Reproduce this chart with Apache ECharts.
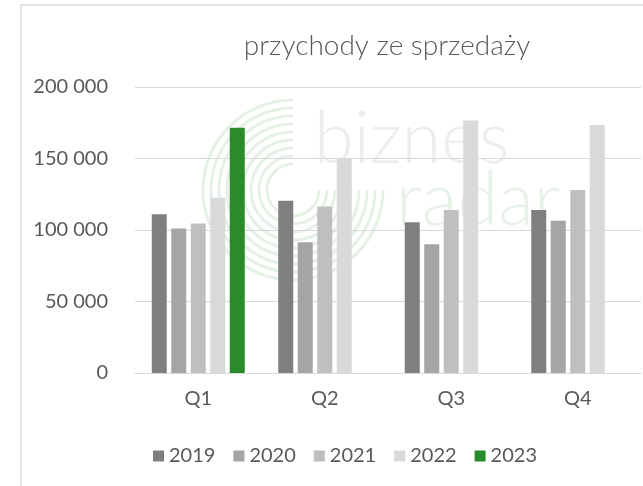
<!DOCTYPE html>
<html>
<head>
<meta charset="utf-8">
<script src="https://cdn.jsdelivr.net/npm/echarts@6/dist/echarts.min.js"></script>
<style>
html, body { margin: 0; padding: 0; background: #fff; }
#chart { width: 643px; height: 486px; }
</style>
</head>
<body>
<div id="chart"></div>
<script>
var quarters = ["Q1", "Q2", "Q3", "Q4"];
var years = ["2019", "2020", "2021", "2022", "2023"];
var values2019 = [111000, 120500, 105500, 114000];
var values2020 = [101000, 91500, 90000, 106500];
var values2021 = [104500, 116500, 114000, 128000];
var values2022 = [122500, 150000, 176500, 173500];
var values2023 = [171500, null, null, null];
var colors = ["#7f7f7f", "#a5a5a5", "#bfbfbf", "#d9d9d9", "#2a8b2b"];

var allValues = [values2019, values2020, values2021, values2022, values2023];

// watermark arcs (biznes radar logo)
var logo = [];
for (var r = 90; r >= 26; r -= 8) {
    logo.push({
        type: "arc",
        silent: true,
        z: -10,
        shape: { cx: 293, cy: 190, r: r, startAngle: 0, endAngle: Math.PI * 1.5, clockwise: true },
        style: { stroke: "#e6f1e6", lineWidth: 3, fill: null }
    });
}
logo.push({
    type: "rect", silent: true, z: -10,
    shape: { x: 21, y: 5, width: 640, height: 500 },
    style: { fill: null, stroke: "#e3e3e3", lineWidth: 2 }
});
logo.push({
    type: "text", silent: true, z: -10,
    left: 314, top: 104,
    style: { text: "biznes", font: "300 72px Lato, 'Open Sans', sans-serif", fill: "#ededed" }
});
logo.push({
    type: "text", silent: true, z: -10,
    left: 396, top: 164,
    style: { text: "radar", font: "300 74px Lato, 'Open Sans', sans-serif", fill: "#e8f2e8" }
});

var chart = echarts.init(document.getElementById("chart"));
var option = {
    backgroundColor: "#fff",
    animation: false,
    color: colors,
    title: {
        text: "przychody ze sprzedaży",
        left: 382,
        textAlign: "center",
        top: 27,
        textStyle: { color: "#595959", fontSize: 28, fontWeight: 300, fontFamily: "Lato, sans-serif" }
    },
    graphic: logo,
    grid: { left: 135, right: 2, top: 87, bottom: 113 },
    legend: {
        data: years,
        left: 148,
        top: 441,
        itemWidth: 11,
        itemHeight: 11,
        itemGap: 18,
        icon: "rect",
        textStyle: { color: "#595959", fontSize: 20, fontFamily: "Lato, sans-serif" }
    },
    xAxis: {
        type: "category",
        data: quarters,
        axisLine: { lineStyle: { color: "#d9d9d9", width: 1 } },
        axisTick: { show: false },
        axisLabel: { color: "#595959", fontSize: 20, margin: 16, fontFamily: "Lato, sans-serif" }
    },
    yAxis: {
        type: "value",
        min: 0,
        max: 200000,
        interval: 50000,
        axisLine: { show: false },
        axisTick: { show: false },
        splitLine: { lineStyle: { color: "#d9d9d9", width: 1 } },
        axisLabel: {
            color: "#595959",
            fontSize: 20,
            margin: 27,
            fontFamily: "Lato, sans-serif",
            formatter: function (v) {
                return String(v).replace(/\B(?=(\d{3})+(?!\d))/g, " ");
            }
        }
    },
    series: years.map(function (y, i) {
        return {
            name: y,
            type: "bar",
            barWidth: 15,
            barGap: "30%",
            data: allValues[i],
            itemStyle: { color: colors[i] }
        };
    })
};
chart.setOption(option);

window.onresize = function () {
    chart.resize();
};
</script>
</body>
</html>
